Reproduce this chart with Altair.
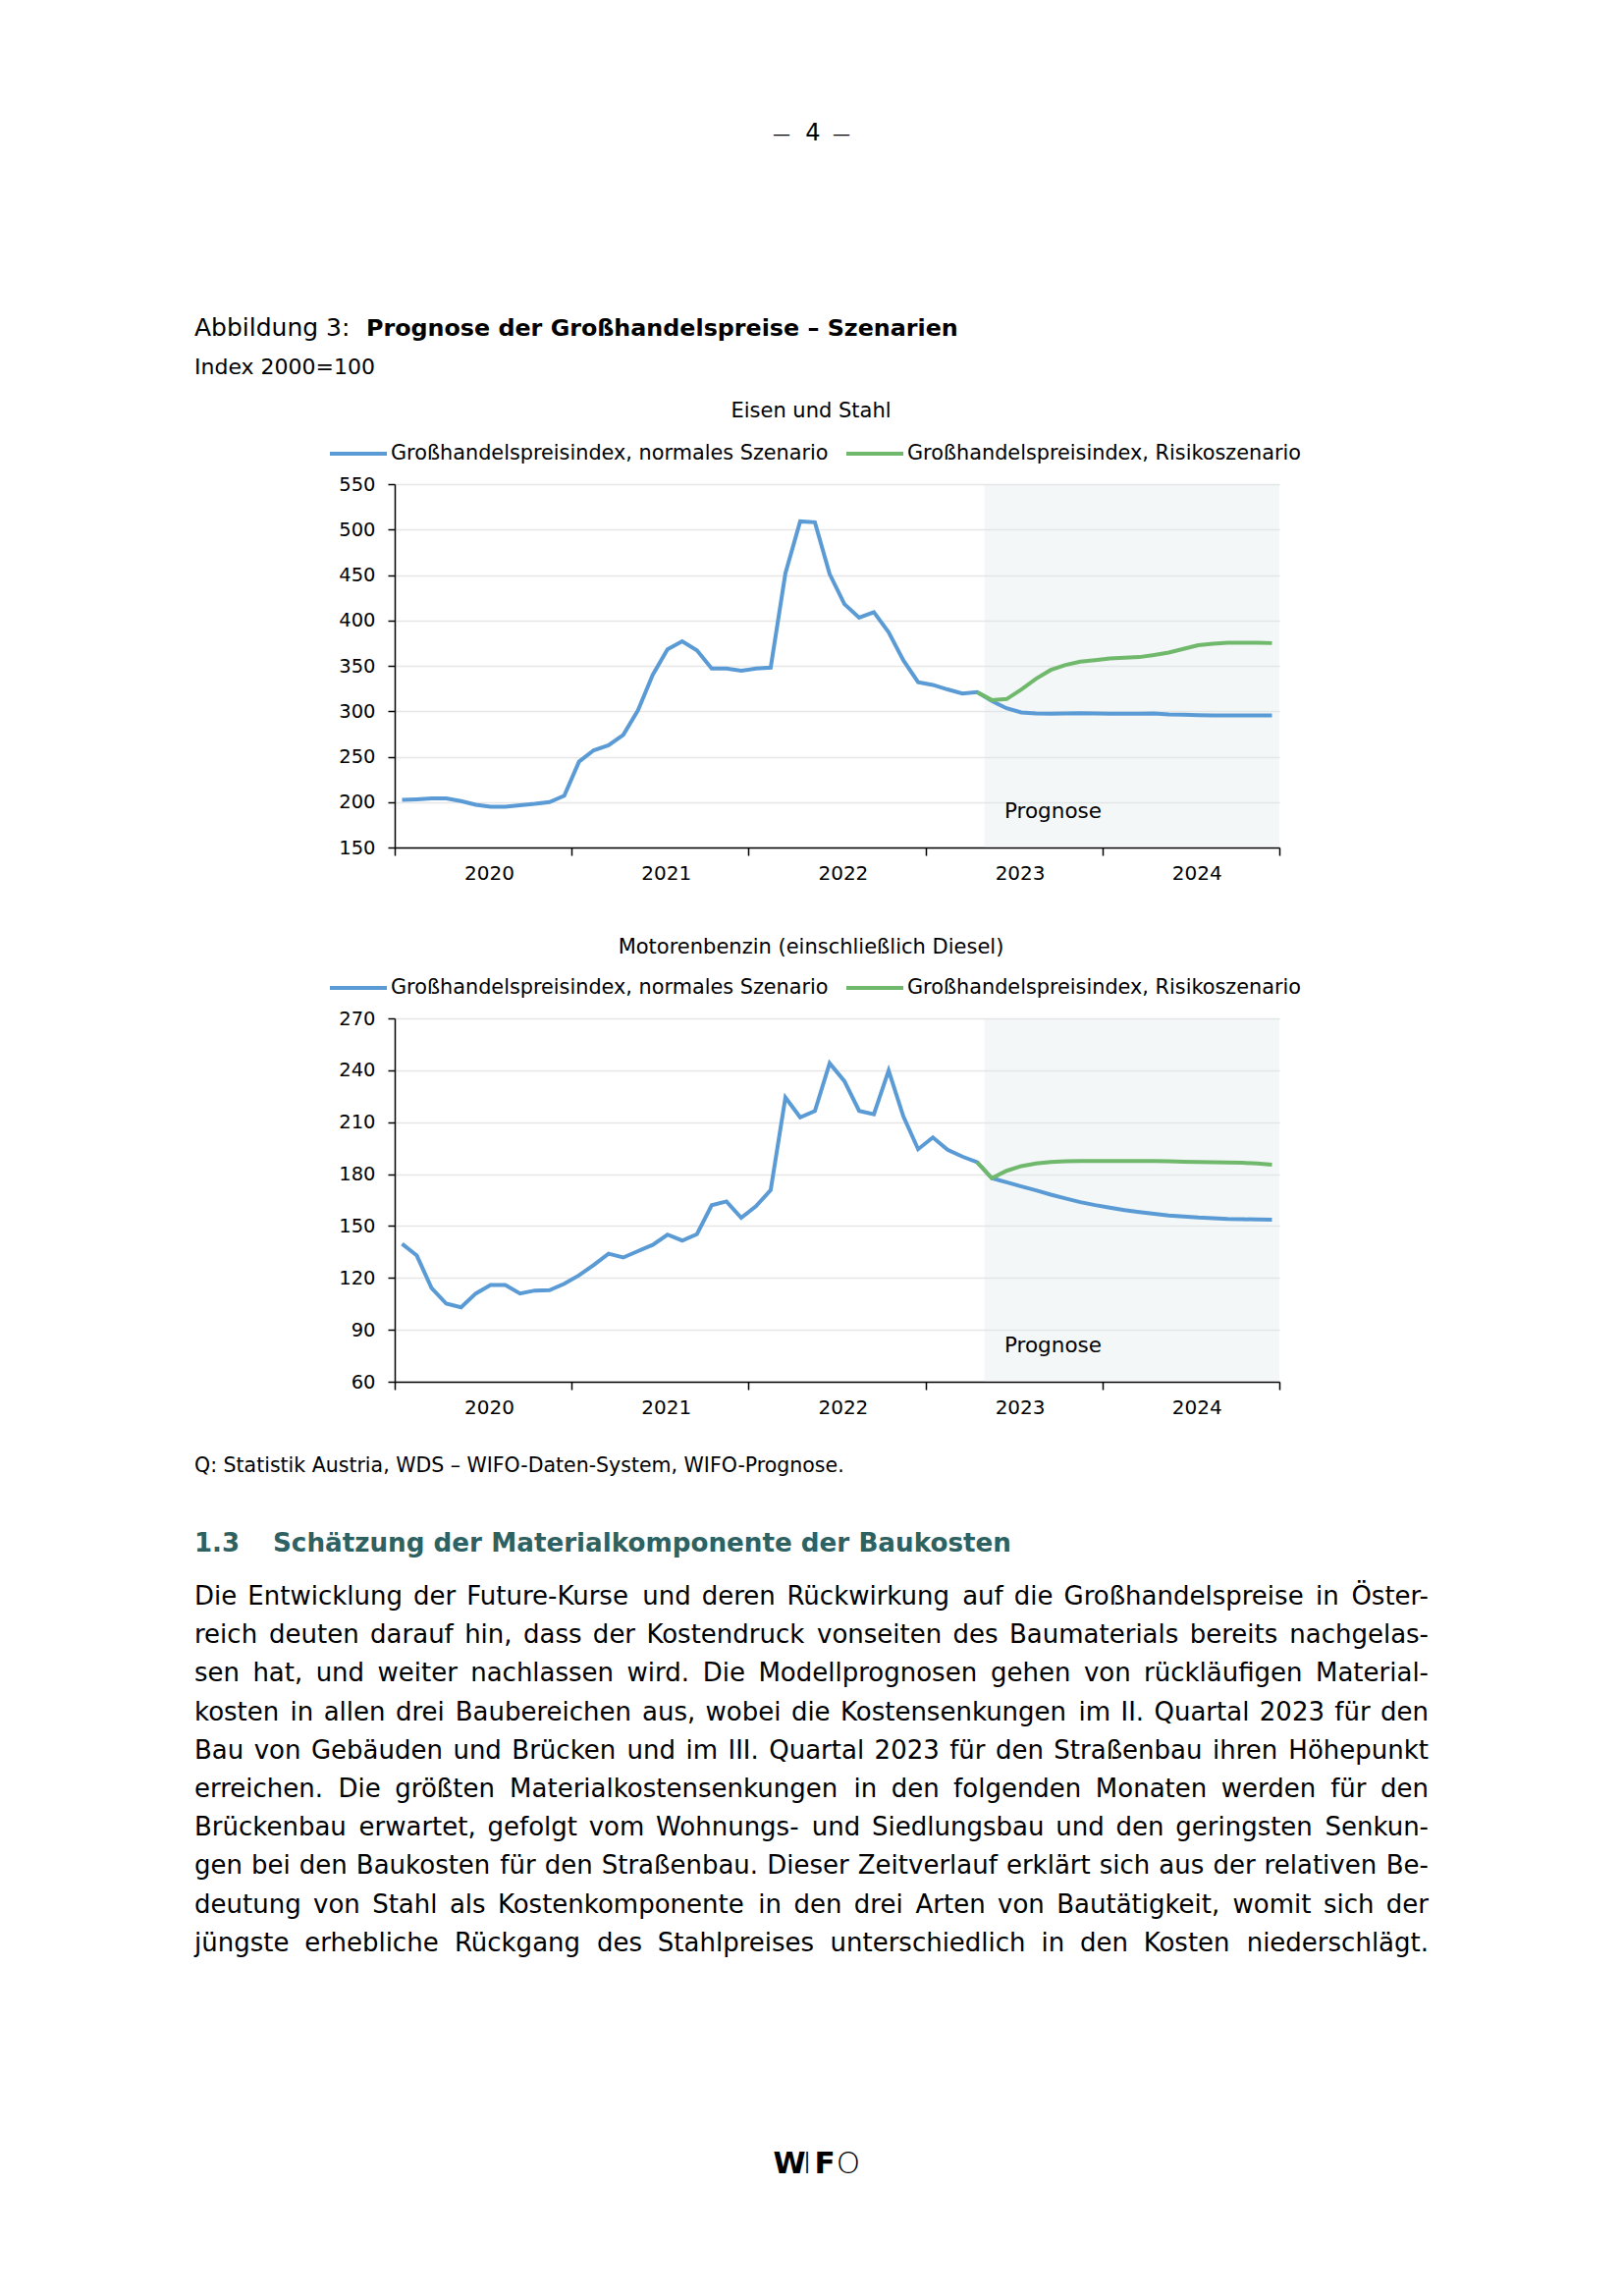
import altair as alt
import pandas as pd

FONT = "DejaVu Sans"
BLUE = "#5b9bd5"
GREEN = "#70b96c"
TEAL = "#2e6161"
SHADE = "#dbe7eb"

YEARS = [2020, 2021, 2022, 2023, 2024]
MONTHS = [f"{y}-{m:02d}" for y in YEARS for m in range(1, 13)]
SERIES = ["Großhandelspreisindex, normales Szenario",
          "Großhandelspreisindex, Risikoszenario"]
RISK_START = "2023-04"
FORECAST_START = "2023-05"
AXIS_END = "2025-01"
YEAR_TICKS = [2020, 2021, 2022, 2023, 2024, 2025]

# Eisen und Stahl (Index 2000=100), monthly 2020-01 .. 2024-12
steel_normal = [202.3, 203, 204, 204, 201, 197, 195, 195, 196.5, 198, 200, 207,
                244.5, 257, 262.5, 274, 301, 340, 368, 377, 367, 347, 347, 344.5,
                347, 348, 452, 509, 508, 451, 418, 403, 409, 387, 356, 332,
                329, 324, 319.5, 321, 311.3, 303.3, 298.6, 297.5, 297.2, 297.5, 297.9, 297.5,
                297.2, 297.2, 297.2, 297.5, 296.5, 296.1, 295.7, 295.4, 295.4, 295.4, 295.4, 295.4]
# Risikoszenario from 2023-04
steel_risk = [321, 312.3, 313.4, 324, 335.8, 345.5, 351, 354.5, 356.3,
              358, 359, 359.6, 361.8, 364.6, 368.6, 372.6, 374.4, 375.5, 375.5, 375.5, 375]

# Motorenbenzin (einschließlich Diesel)
fuel_normal = [139.7, 132.9, 114.2, 105.1, 103, 111, 115.9, 115.9, 111, 112.7, 112.9, 116.6,
               121.5, 127.5, 134, 131.8, 135.5, 139.1, 145, 141.6, 145.3, 162, 164.2, 154.8,
               161.4, 170.8, 224.3, 212.8, 216.5, 244.1, 233.7, 216.5, 214.6, 239.8, 213.3, 194.4,
               201.2, 194.1, 190.1, 186.9, 177.6, 175.3, 172.9, 170.6, 168.1, 165.9, 163.8, 162.1,
               160.6, 159.2, 158.1, 157, 156, 155.5, 154.9, 154.5, 154.1, 153.9, 153.8, 153.6]
fuel_risk = [186.9, 177.6, 181.9, 184.6, 186.1, 187, 187.4, 187.6, 187.6,
             187.6, 187.6, 187.6, 187.6, 187.4, 187.2, 187, 186.8, 186.7, 186.5, 186.1, 185.5]

STEEL_TICKS = [150, 200, 250, 300, 350, 400, 450, 500, 550]
FUEL_TICKS = [60, 90, 120, 150, 180, 210, 240, 270]

PAGE_NO = "4"
DASH = "—"
FIG_LABEL = "Abbildung 3:"
FIG_TITLE = "Prognose der Großhandelspreise – Szenarien"
FIG_UNIT = "Index 2000=100"
PANEL1 = "Eisen und Stahl"
PANEL2 = "Motorenbenzin (einschließlich Diesel)"
PROG = "Prognose"
SOURCE = "Q: Statistik Austria, WDS – WIFO-Daten-System, WIFO-Prognose."
SEC_NUM = "1.3"
SEC_TITLE = "Schätzung der Materialkomponente der Baukosten"
BODY = [
    "Die Entwicklung der Future-Kurse und deren Rückwirkung auf die Großhandelspreise in Öster-",
    "reich deuten darauf hin, dass der Kostendruck vonseiten des Baumaterials bereits nachgelas-",
    "sen hat, und weiter nachlassen wird. Die Modellprognosen gehen von rückläufigen Material-",
    "kosten in allen drei Baubereichen aus, wobei die Kostensenkungen im II. Quartal 2023 für den",
    "Bau von Gebäuden und Brücken und im III. Quartal 2023 für den Straßenbau ihren Höhepunkt",
    "erreichen. Die größten Materialkostensenkungen in den folgenden Monaten werden für den",
    "Brückenbau erwartet, gefolgt vom Wohnungs- und Siedlungsbau und den geringsten Senkun-",
    "gen bei den Baukosten für den Straßenbau. Dieser Zeitverlauf erklärt sich aus der relativen Be-",
    "deutung von Stahl als Kostenkomponente in den drei Arten von Bautätigkeit, womit sich der",
    "jüngste erhebliche Rückgang des Stahlpreises unterschiedlich in den Kosten niederschlägt.",
]

# ---------------- layout (pixels, relative to plot origin) ----------------
PW, PH = 901, 370
X0 = 402            # page x of plot left edge
LEFT = 198 - X0     # text left margin
RIGHT = 1455 - X0   # text right margin
CX = 826 - X0       # centre used by the figure headings
BODY_FS = 26

# approximate DejaVu Sans advance widths (em) for justified body text
_W = {" ": .318, ",": .318, "-": .361, ".": .318, ":": .337,
      "A": .684, "B": .686, "C": .698, "D": .770, "E": .632, "F": .575, "G": .775,
      "H": .752, "I": .295, "J": .295, "K": .656, "L": .557, "M": .863, "N": .748,
      "O": .787, "P": .603, "Q": .787, "R": .695, "S": .635, "T": .611, "U": .732,
      "V": .684, "W": .989, "X": .685, "Y": .611, "Z": .685,
      "a": .613, "b": .635, "c": .550, "d": .635, "e": .615, "f": .352, "g": .635,
      "h": .634, "i": .278, "j": .278, "k": .579, "l": .278, "m": .974, "n": .634,
      "o": .612, "p": .635, "q": .635, "r": .411, "s": .521, "t": .392, "u": .634,
      "v": .592, "w": .818, "x": .592, "y": .592, "z": .525,
      "ä": .613, "ö": .612, "ü": .634, "Ö": .787, "ß": .635}


def est_width(s, fs):
    return sum(_W.get(c, .636) for c in s) * fs


rows = []
for n, line in enumerate(BODY):
    words = line.split(" ")
    widths = [est_width(w, BODY_FS) for w in words]
    gap = (RIGHT - LEFT - sum(widths)) / (len(words) - 1)
    pos = LEFT
    for k, (w, wd) in enumerate(zip(words, widths)):
        last = k == len(words) - 1
        rows.append({"n": n, "word": w, "px": RIGHT if last else pos, "last": last})
        pos += wd + gap
body_df = pd.DataFrame(rows)

one = pd.DataFrame({"k": [0]})


def txt(text, x, y, size, weight="normal", align="left", color="black"):
    return alt.Chart(one).mark_text(
        text=text, font=FONT, fontSize=size, fontWeight=weight,
        align=align, baseline="alphabetic", color=color
    ).encode(x=alt.value(x), y=alt.value(y))


def month_pos(field, offset):
    return (f"toNumber(substring(datum.{field},0,4)) + "
            f"(toNumber(substring(datum.{field},5,7)) - {offset})/12")


def panel(normal, risk, ticks):
    start = MONTHS.index(RISK_START)
    recs = [{"month": m, "series": SERIES[0], "value": v} for m, v in zip(MONTHS, normal)]
    recs += [{"month": m, "series": SERIES[1], "value": v} for m, v in zip(MONTHS[start:], risk)]
    df = pd.DataFrame(recs)
    shade_df = pd.DataFrame({"start": [FORECAST_START], "end": [AXIS_END],
                             "lo": [ticks[0]], "hi": [ticks[-1]]})

    xscale = alt.Scale(domain=[YEAR_TICKS[0], YEAR_TICKS[-1]], nice=False, zero=False)
    yscale = alt.Scale(domain=[ticks[0], ticks[-1]], nice=False, zero=False)
    xaxis = alt.Axis(values=YEAR_TICKS, format="d",
                     labelExpr="datum.value < 2025 ? datum.label : ''",
                     labelOffset=96, labelAngle=0, tickSize=8, tickColor="black",
                     tickWidth=1.5, domainColor="black", domainWidth=1.5, grid=False,
                     labelFont=FONT, labelFontSize=20, labelColor="black", labelPadding=8,
                     labelFlush=False, labelOverlap=False, title=None)
    yaxis = alt.Axis(values=ticks, grid=True, gridColor="#e6e6e6", gridWidth=1.5,
                     tickSize=7, tickColor="black", tickWidth=1.5, domainColor="black",
                     domainWidth=1.5, labelFont=FONT, labelFontSize=19.5, labelColor="black",
                     labelPadding=13, labelFlush=False, labelOverlap=False, title=None)
    legend = alt.Legend(orient="none", legendX=-68, legendY=-62, direction="horizontal",
                        title=None, symbolType="stroke", symbolSize=58 * 58,
                        symbolStrokeWidth=4, labelFont=FONT, labelFontSize=20.8,
                        labelColor="black", labelOffset=2, columnPadding=10,
                        labelLimit=800, padding=0)
    color = alt.Color("series:N", scale=alt.Scale(domain=SERIES, range=[BLUE, GREEN]),
                      legend=legend)

    shade = alt.Chart(shade_df).transform_calculate(
        xs=month_pos("start", 1), xe=month_pos("end", 1)
    ).mark_rect(color=SHADE, opacity=0.33).encode(
        x=alt.X("xs:Q", scale=xscale, axis=xaxis), x2="xe:Q",
        y=alt.Y("lo:Q", scale=yscale, axis=yaxis), y2="hi:Q")

    base = alt.Chart(df).transform_calculate(t=month_pos("month", 0.5))
    enc = dict(x=alt.X("t:Q", scale=xscale, axis=xaxis),
               y=alt.Y("value:Q", scale=yscale, axis=yaxis), color=color)
    l_norm = base.transform_filter(alt.datum.series == SERIES[0]).mark_line(
        strokeWidth=4).encode(**enc)
    l_risk = base.transform_filter(alt.datum.series == SERIES[1]).mark_line(
        strokeWidth=4).encode(**enc)
    label = txt(PROG, 621, 340, 21.5)
    return alt.layer(shade, l_norm, l_risk, label).properties(width=PW, height=PH)


# Text cells (page y: cell1 8-493, plot1 493-863, cell2 863-1037, plot2 1037-1407, cell3 1407-)
t1 = alt.layer(
    txt(DASH, 796 - X0, 134, 18, align="center"),
    txt(PAGE_NO, 828 - X0, 135, 24, align="center"),
    txt(DASH, 857 - X0, 134, 18, align="center"),
    txt(FIG_LABEL, LEFT, 334, 25),
    txt(FIG_TITLE, 373 - X0, 334, 23.8, weight="bold"),
    txt(FIG_UNIT, LEFT, 373, 22),
    txt(PANEL1, CX, 417, 21, align="center"),
).properties(width=PW, height=485)

t2 = alt.layer(
    txt(PANEL2, CX, 108, 21, align="center"),
).properties(width=PW, height=174)

ys = alt.Y("n:Q", scale=alt.Scale(domain=[0, len(BODY) - 1], range=[227, 227 + 39.2 * 9]),
           axis=None)
body_base = alt.Chart(body_df)
body_mid = body_base.transform_filter("!datum.last").mark_text(
    font=FONT, fontSize=BODY_FS, align="left", baseline="alphabetic", color="black"
).encode(x=alt.X("px:Q", scale=None), y=ys, text="word:N")
body_last = body_base.transform_filter("datum.last").mark_text(
    font=FONT, fontSize=BODY_FS, align="right", baseline="alphabetic", color="black"
).encode(x=alt.X("px:Q", scale=None), y=ys, text="word:N")

t3 = alt.layer(
    txt(SOURCE, LEFT, 92, 20.5),
    txt(SEC_NUM, LEFT, 173, 26, weight="bold", color=TEAL),
    txt(SEC_TITLE, 278 - X0, 173, 26.2, weight="bold", color=TEAL),
    body_mid, body_last,
    txt("W", 804 - X0, 806, 30, weight="bold", align="center"),
    txt("I", 822 - X0, 806, 31, weight=200, align="center"),
    txt("F", 840 - X0, 806, 31, weight="bold", align="center"),
    txt("O", 864 - X0, 806, 31, weight=200, align="center"),
).properties(width=PW, height=915)

p1 = panel(steel_normal, steel_risk, STEEL_TICKS)
p2 = panel(fuel_normal, fuel_risk, FUEL_TICKS)

chart = alt.vconcat(t1, p1, t2, p2, t3, spacing=0, bounds="flush").resolve_scale(
    color="independent"
).properties(
    padding={"left": 190, "top": 0, "right": 10, "bottom": 0}
).configure(font=FONT).configure_view(stroke="transparent", strokeWidth=0)

chart.save("out.html", embed_options={"renderer": "svg", "actions": False})
